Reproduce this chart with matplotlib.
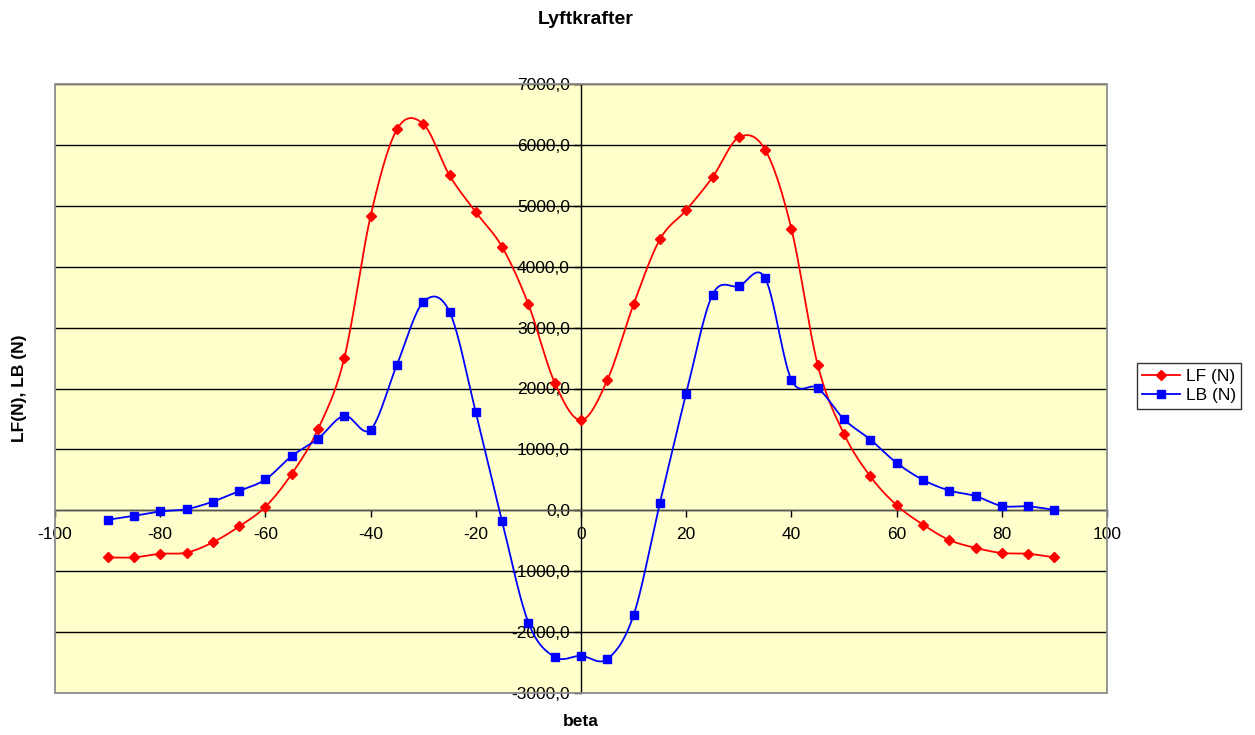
import numpy as np
import matplotlib
matplotlib.use("Agg")
import matplotlib.pyplot as plt
from matplotlib.ticker import FuncFormatter, MultipleLocator
from matplotlib.patches import Rectangle
from matplotlib.lines import Line2D

plt.rcParams['font.family'] = ['Liberation Sans', 'DejaVu Sans']
plt.rcParams['axes.unicode_minus'] = False

beta = [-90, -85, -80, -75, -70, -65, -60, -55, -50, -45, -40, -35, -30, -25, -20, -15, -10, -5,
        0, 5, 10, 15, 20, 25, 30, 35, 40, 45, 50, 55, 60, 65, 70, 75, 80, 85, 90]
LF = [-773, -773, -714, -695, -526, -266, 58, 597, 1331, 2500, 4831, 6253, 6344, 5500, 4896, 4325, 3383, 2097,
      1481, 2136, 3383, 4448, 4929, 5468, 6123, 5922, 4623, 2390, 1253, 558, 84, -234, -487, -617, -701, -714, -773]
LB = [-156, -91, -19, 19, 143, 318, 506, 890, 1175, 1552, 1325, 2390, 3416, 3260, 1610, -182, -1844, -2409,
      -2390, -2442, -1721, 123, 1916, 3539, 3682, 3812, 2143, 2006, 1494, 1162, 779, 500, 325, 234, 71, 65, 6]

title = "Lyftkrafter"
xlabel = "beta"
ylabel = "LF(N), LB (N)"
series_names = ["LF (N)", "LB (N)"]


def smooth(x, y, n=30):
    x = np.asarray(x, float)
    y = np.asarray(y, float)
    P = np.column_stack([x, y])
    P_ext = np.vstack([P[0], P, P[-1]])
    out = []
    t = np.linspace(0, 1, n)[:, None]
    for i in range(len(P) - 1):
        p0, p1, p2, p3 = P_ext[i], P_ext[i + 1], P_ext[i + 2], P_ext[i + 3]
        c1 = p1 + (p2 - p0) / 6.0
        c2 = p2 - (p3 - p1) / 6.0
        seg = ((1 - t) ** 3) * p1 + 3 * ((1 - t) ** 2) * t * c1 + 3 * (1 - t) * t ** 2 * c2 + t ** 3 * p2
        out.append(seg if i == 0 else seg[1:])
    out = np.vstack(out)
    return out[:, 0], out[:, 1]


W, H = 1255, 735
fig = plt.figure(figsize=(W / 100, H / 100), dpi=100)
ax = fig.add_axes([55 / W, 1 - 693 / H, (1107 - 55) / W, (693 - 84) / H])
ax.set_facecolor('#FFFFCC')

ax.set_xlim(-100, 100)
ax.set_ylim(-3000, 7000)
ax.xaxis.set_major_locator(MultipleLocator(20))
ax.yaxis.set_major_locator(MultipleLocator(1000))
ax.yaxis.set_major_formatter(FuncFormatter(lambda v, p: f"{v:.1f}".replace('.', ',')))
ax.xaxis.set_major_formatter(FuncFormatter(lambda v, p: f"{int(round(v))}"))

ax.yaxis.grid(True, color='black', linewidth=1.0)
ax.set_axisbelow(True)

for s in ['top', 'right']:
    ax.spines[s].set_visible(False)
ax.spines['left'].set_position(('data', 0))
ax.spines['bottom'].set_position(('data', 0))
ax.spines['left'].set_color('black')
ax.spines['bottom'].set_color('#555555')
ax.spines['left'].set_linewidth(1.0)
ax.spines['bottom'].set_linewidth(1.0)
ax.add_patch(Rectangle((0, 0), 1, 1, transform=ax.transAxes, fill=False,
                       edgecolor='#8c8c8c', linewidth=1.3, zorder=5, clip_on=False))

ax.tick_params(axis='both', direction='out', length=5, width=1, labelsize=12.5, pad=3)
ax.tick_params(axis='x', pad=7)

xs, ys = smooth(beta, LF)
ax.plot(xs, ys, color='#FF0000', linewidth=1.3, zorder=3)
ax.plot(beta, LF, linestyle='none', marker='D', markersize=5.5, color='#FF0000', zorder=4)
xs, ys = smooth(beta, LB)
ax.plot(xs, ys, color='#0000FF', linewidth=1.3, zorder=3)
ax.plot(beta, LB, linestyle='none', marker='s', markersize=6, color='#0000FF', zorder=4)

handles = [Line2D([], [], color='#FF0000', marker='D', markersize=5.5, linewidth=1.3),
           Line2D([], [], color='#0000FF', marker='s', markersize=6, linewidth=1.3)]
leg = fig.legend(handles, series_names, loc='center left',
                 bbox_to_anchor=(1137 / W, 1 - 386 / H), frameon=True, fancybox=False,
                 edgecolor='black', fontsize=12.5, handlelength=2.2, handletextpad=0.3,
                 borderpad=0.3, labelspacing=0.25, borderaxespad=0)
leg.get_frame().set_linewidth(1.0)

fig.text(586 / W, 1 - 20 / H, title, ha='center', va='center', fontsize=14, fontweight='bold')
fig.text(581 / W, 1 - 721 / H, xlabel, ha='center', va='center', fontsize=12.5, fontweight='bold')
fig.text(20 / W, 1 - 388 / H, ylabel, ha='center', va='center', rotation=90, fontsize=12.5, fontweight='bold')

fig.savefig('out.png', dpi=100)
